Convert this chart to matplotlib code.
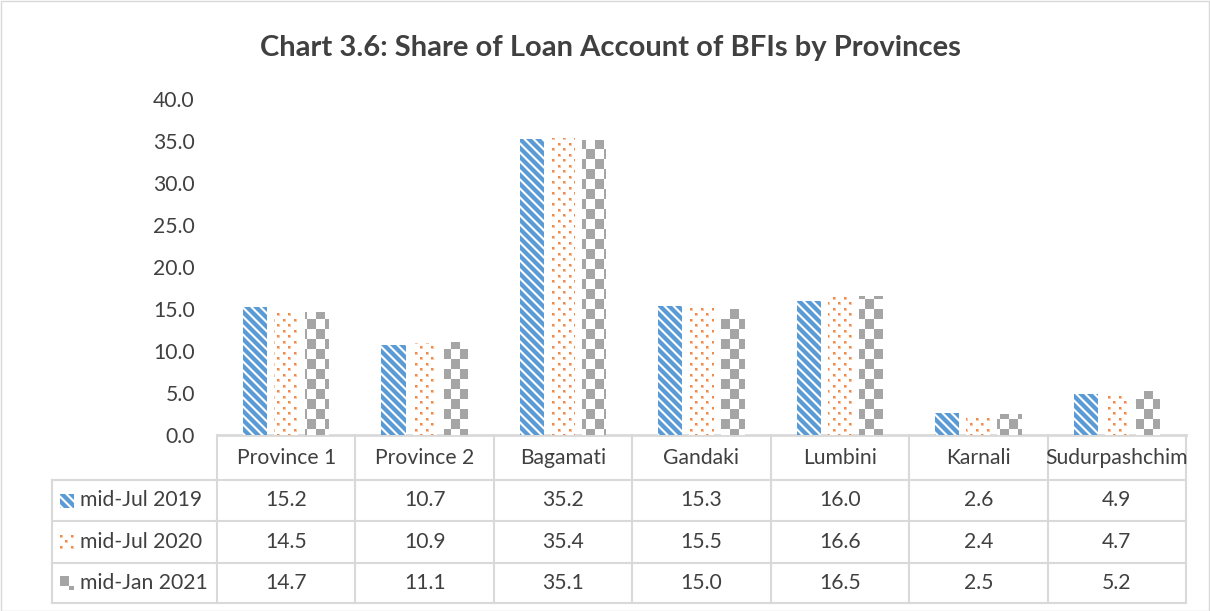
import numpy as np
import matplotlib
matplotlib.use("Agg")
import matplotlib.pyplot as plt
from matplotlib.path import Path
from matplotlib.lines import Line2D
from matplotlib.patches import Rectangle
from matplotlib.colors import to_rgba

# ---------------- data ----------------
categories = ["Province 1", "Province 2", "Bagamati", "Gandaki", "Lumbini", "Karnali", "Sudurpashchim"]
series_names = ["mid-Jul 2019", "mid-Jul 2020", "mid-Jan 2021"]
jul2019 = [15.2, 10.7, 35.2, 15.3, 16.0, 2.6, 4.9]
jul2020 = [14.5, 10.9, 35.4, 15.5, 16.6, 2.4, 4.7]
jan2021 = [14.7, 11.1, 35.1, 15.0, 16.5, 2.5, 5.2]
yticks = [0, 5, 10, 15, 20, 25, 30, 35, 40]
title = "Chart 3.6: Share of Loan Account of BFIs by Provinces"

FONT = ["Lato", "DejaVu Sans"]
plt.rcParams["font.family"] = FONT
FS = 15.2

BLUE = "#5B9BD5"
ORANGE = "#F08A4B"
GRAY = "#A5A5A5"
GRID = "#D9D9D9"
TXT = "#404040"

W, H = 1210, 611
fig = plt.figure(figsize=(W / 100, H / 100), dpi=100)


def fx(x):
    return x / W


def fy(y):
    return 1 - y / H


# ---------------- patterns ----------------
def pattern(kind, h, w):
    r, c = np.mgrid[0:h, 0:w]
    arr = np.ones((h, w, 4))
    if kind == 0:
        m = (c - r) % 9
        arr[m < 5] = to_rgba(BLUE)
        arr[m == 5] = to_rgba("#A9CBEB")
        arr[m == 8] = to_rgba("#A9CBEB")
    elif kind == 1:
        core = ((r % 11 < 2) & (c % 11 < 2)) | (((r - 5) % 11 < 2) & ((c - 5) % 11 < 2))
        halo = ((r % 11 < 3) & (c % 11 < 3)) | (((r - 5) % 11 < 3) & ((c - 5) % 11 < 3))
        arr[halo] = to_rgba("#F8C4A2")
        arr[core] = to_rgba(ORANGE)
    else:
        mask = ((r // 10) + (c // 9)) % 2 == 0
        arr[mask] = to_rgba(GRAY)
    return arr


L, R, T, B = 217, 1186, 99, 435
ax = fig.add_axes([fx(L), fy(B), (R - L) / W, (B - T) / H])
ax.set_xlim(-0.5, len(categories) - 0.5)
ax.set_ylim(0, 40)
for s in ax.spines.values():
    s.set_visible(False)
ax.set_xticks([])
ax.set_yticks(yticks)
ax.set_yticklabels([f"{v:.1f}" for v in yticks], fontsize=FS, color=TXT)
ax.tick_params(axis="y", length=0, pad=16)
ax.patch.set_alpha(0)

x = np.arange(len(categories))
offsets = [-0.225, 0.0, 0.225]
all_series = [jul2019, jul2020, jan2021]
aw, ah = R - L, B - T
for k, (vals, off) in enumerate(zip(all_series, offsets)):
    bars = ax.bar(x + off, vals, width=0.175, color="white", edgecolor="none", zorder=1)
    paths = [p.get_path().transformed(p.get_patch_transform()) for p in bars.patches]
    cp = Path.make_compound_path(*paths)
    im = ax.imshow(pattern(k, ah, aw), extent=[-0.5, len(categories) - 0.5, 0, 40],
                   aspect="auto", interpolation="nearest", origin="upper", zorder=2)
    im.set_clip_path(cp, ax.transData)

# ---------------- title ----------------
fig.text(fx(610), fy(48), title, ha="center", va="center", fontsize=21,
         fontweight="bold", color=TXT)

# ---------------- data table ----------------
def hline(x1, x2, y, lw=1.5):
    fig.add_artist(Line2D([fx(x1), fx(x2)], [fy(y), fy(y)], transform=fig.transFigure,
                          color=GRID, lw=lw, zorder=0))


def vline(xp, y1, y2, lw=1.5):
    fig.add_artist(Line2D([fx(xp), fx(xp)], [fy(y1), fy(y2)], transform=fig.transFigure,
                          color=GRID, lw=lw, zorder=0))


col_w = (R - L) / len(categories)
row_y = [435, 480, 521, 563, 603]
leg_left = 52
hline(L, R, row_y[0], lw=2)
for yy in row_y[1:]:
    hline(leg_left, R, yy)
for i in range(len(categories) + 1):
    vline(L + i * col_w, row_y[0], row_y[-1])
vline(leg_left, row_y[1], row_y[-1])

for i, cat in enumerate(categories):
    fig.text(fx(L + (i + 0.5) * col_w), fy((row_y[0] + row_y[1]) / 2), cat,
             ha="center", va="center", fontsize=FS, color=TXT)

for j, (name, vals) in enumerate(zip(series_names, all_series)):
    yc = (row_y[j + 1] + row_y[j + 2]) / 2
    fig.text(fx(80), fy(yc), name, ha="left", va="center", fontsize=FS, color=TXT)
    key = pattern(j, 14, 14)
    fig.figimage(key, xo=60, yo=int(H - (yc + 7)), origin="upper", zorder=3)
    for i, v in enumerate(vals):
        fig.text(fx(L + (i + 0.5) * col_w), fy(yc), f"{v:.1f}",
                 ha="center", va="center", fontsize=FS, color=TXT)

# outer border
fig.add_artist(Rectangle((0.5 / W, 0.5 / H), 1 - 1.5 / W, 1 - 1.5 / H, transform=fig.transFigure,
                         fill=False, edgecolor=GRID, lw=1))

fig.savefig("out.png", dpi=100)
